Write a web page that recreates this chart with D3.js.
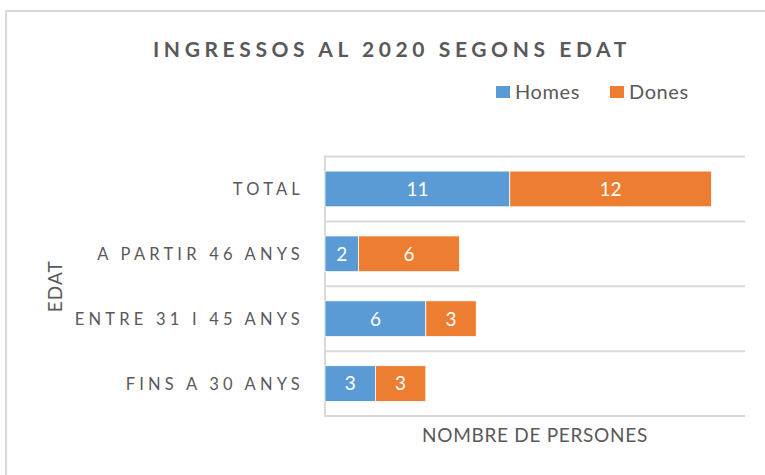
<!DOCTYPE html>
<html lang="ca">
<head>
<meta charset="utf-8">
<style>
  body { margin: 0; background: #fff; }
  svg { display: block; }
  .frame { fill: none; stroke: #d9d9d9; stroke-width: 2px; }
  .grid { stroke: #d9d9d9; stroke-width: 2px; }
  .title { font-family: Lato, sans-serif; font-weight: bold; font-size: 21px; fill: #595959; letter-spacing: 4.6px; }
  .cat { font-family: Lato, sans-serif; font-size: 16.5px; fill: #595959; letter-spacing: 4.2px; }
  .axis-title { font-family: Lato, sans-serif; font-size: 19px; fill: #595959; letter-spacing: 0.7px; }
  .legend { font-family: Lato, sans-serif; font-size: 20px; fill: #595959; letter-spacing: 0.6px; }
  .val { font-family: Lato, sans-serif; font-size: 19px; fill: #fff; }
</style>
<script src="https://d3js.org/d3.v7.min.js"></script>
</head>
<body>
<script>
// chart data
var categories = ["TOTAL", "A PARTIR 46 ANYS", "ENTRE 31 I 45 ANYS", "FINS A 30 ANYS"];
var series = ["Homes", "Dones"];
var homes = [11, 2, 6, 3];
var dones = [12, 6, 3, 3];
var colors = ["#5b9bd5", "#ed7d31"];

var width = 765, height = 475;
var plot = {left: 325, right: 745, top: 156.5, bottom: 416};

var svg = d3.select("body").append("svg")
    .attr("width", width)
    .attr("height", height);

svg.append("rect").attr("class", "frame")
    .attr("x", 6).attr("y", 11)
    .attr("width", 780).attr("height", 480);

var rows = categories.map(function(c, i) { return {cat: c, Homes: homes[i], Dones: dones[i]}; });

var x = d3.scaleLinear().domain([0, 25]).range([plot.left, plot.right]);
var y = d3.scaleBand().domain(categories)
    .range([plot.top, plot.bottom])
    .paddingInner(0.45).paddingOuter(0.225);

// horizontal gridlines at band edges
var gap = (y.step() - y.bandwidth()) / 2;
var edges = categories.map(function(c) { return y(c) - gap; });
edges.push(plot.bottom);
svg.selectAll(".grid-h").data(edges).enter().append("line")
    .attr("class", "grid")
    .attr("x1", plot.left).attr("x2", plot.right)
    .attr("y1", function(d) { return d; }).attr("y2", function(d) { return d; });

svg.append("line").attr("class", "grid")
    .attr("x1", plot.left).attr("x2", plot.left)
    .attr("y1", plot.top - 1).attr("y2", plot.bottom + 1);

var stack = d3.stack().keys(series);
var layers = stack(rows);

var g = svg.selectAll(".layer").data(layers).enter().append("g")
    .attr("fill", function(d, i) { return colors[i]; });

g.selectAll("rect").data(function(d) { return d; }).enter().append("rect")
    .attr("x", function(d) { return x(d[0]); })
    .attr("y", function(d) { return y(d.data.cat); })
    .attr("width", function(d) { return x(d[1]) - x(d[0]); })
    .attr("height", y.bandwidth())
    .attr("stroke", "#fff").attr("stroke-width", 0.75);

g.selectAll("text").data(function(d) { return d; }).enter().append("text")
    .attr("class", "val")
    .attr("x", function(d) { return (x(d[0]) + x(d[1])) / 2; })
    .attr("y", function(d) { return y(d.data.cat) + y.bandwidth() / 2; })
    .attr("text-anchor", "middle")
    .attr("dy", "0.36em")
    .text(function(d) { return d[1] - d[0]; });

// category labels (trailing letter-spacing pushes the end, so anchor a bit right)
svg.selectAll(".cat").data(categories).enter().append("text")
    .attr("class", "cat")
    .attr("x", 304)
    .attr("y", function(d) { return y(d) + y.bandwidth() / 2; })
    .attr("dy", "0.36em")
    .attr("text-anchor", "end")
    .text(function(d) { return d; });

svg.append("text").attr("class", "title")
    .attr("x", 392).attr("y", 57)
    .attr("text-anchor", "middle")
    .text("INGRESSOS AL 2020 SEGONS EDAT");

svg.append("text").attr("class", "axis-title")
    .attr("x", (plot.left + plot.right) / 2).attr("y", 442)
    .attr("text-anchor", "middle")
    .text("NOMBRE DE PERSONES");

svg.append("text").attr("class", "axis-title")
    .attr("transform", "translate(62," + (plot.top + plot.bottom) / 2 + ") rotate(-90)")
    .attr("text-anchor", "middle")
    .style("letter-spacing", "1px")
    .text("EDAT");

// legend
var legendX = [496, 610];
var lg = svg.selectAll(".lg").data(series).enter().append("g")
    .attr("transform", function(d, i) { return "translate(" + legendX[i] + ",86)"; });
lg.append("rect").attr("width", 14).attr("height", 12)
    .attr("fill", function(d, i) { return colors[i]; });
lg.append("text").attr("class", "legend")
    .attr("x", 19).attr("y", 12.5)
    .text(function(d) { return d; });
</script>
</body>
</html>
